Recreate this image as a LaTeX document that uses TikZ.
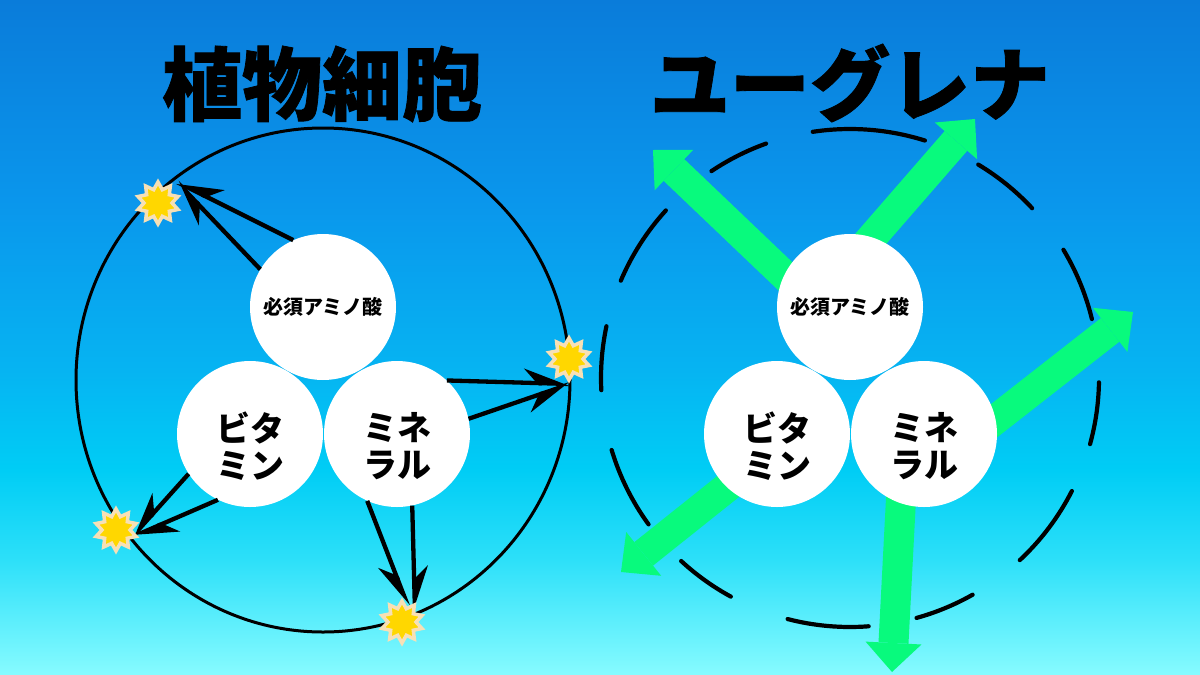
\documentclass[tikz,border=0pt]{standalone}
\usepackage{fontspec}
\usetikzlibrary{arrows.meta,shapes.geometric}
\newfontfamily\cjk{Noto Sans CJK JP}
\newfontfamily\cjkt{Noto Sans CJK JP}[BoldFeatures={FakeBold=1.0}]
\definecolor{bg0}{RGB}{10,124,218}
\definecolor{bg1}{RGB}{10,150,236}
\definecolor{bg2}{RGB}{6,180,242}
\definecolor{bg3}{RGB}{0,205,245}
\definecolor{bg4}{RGB}{45,224,249}
\definecolor{bg5}{RGB}{135,251,255}
\definecolor{grn}{RGB}{8,250,125}
\definecolor{sy}{RGB}{255,215,0}
\definecolor{sb}{RGB}{247,224,182}
\pgfdeclarelayer{back}
\pgfdeclarelayer{mid}
\pgfsetlayers{back,mid,main}
\begin{document}
\begin{tikzpicture}[x=1pt,y=-1pt,
  ball/.style={circle, fill=white, minimum size=146pt, inner sep=0pt},
  small/.style={font=\cjk\bfseries\fontsize{20}{22}\selectfont},
  big/.style={font=\cjk\bfseries\fontsize{34}{37}\selectfont, align=center, inner sep=0pt},
  ttl/.style={font=\cjkt\bfseries\fontsize{80}{80}\selectfont, inner sep=0pt},
  burst/.style={star, star points=10, star point ratio=1.5, minimum size=42pt, inner sep=0pt, fill=sy, draw=sb, line width=3.5pt},
  barrow/.style={line width=4.3pt, -{Stealth[harpoon, length=40pt, width=28pt, inset=13pt]}},
  barrows/.style={line width=4.3pt, -{Stealth[harpoon, swap, length=40pt, width=28pt, inset=13pt]}},
  garrow/.style={draw=grn, line width=30pt, -{Triangle[length=29pt, width=56pt, line width=0pt, fill=grn]}},
  dashc/.style={line width=4.2pt, line cap=round},
  cell/.style={line width=3pt}
]
\useasboundingbox (0,0) rectangle (1200,675);
\begin{pgfonlayer}{back}
\shade[top color=bg0, bottom color=bg1] (0,0) rectangle (1200,200.5);
\shade[top color=bg1, bottom color=bg2] (0,200) rectangle (1200,370.5);
\shade[top color=bg2, bottom color=bg3] (0,370) rectangle (1200,470.5);
\shade[top color=bg3, bottom color=bg4] (0,470) rectangle (1200,560.5);
\shade[top color=bg4, bottom color=bg5] (0,560) rectangle (1200,675);
\end{pgfonlayer}

% titles
\node[ttl] (title1) at (322,84) {植物細胞};
\node[ttl] (title2) at (850,83) {ユーグレナ};

% left: plant cell
\node[ball, small] (aminoL) at (323,307) {必須アミノ酸};
\node[ball] (vitaL) at (250,434) {};
\node[ball] (mineL) at (397,434) {};
\node[big] (vitaLt) at (250,446) {ビタ\\ミン};
\node[big] (mineLt) at (397,446) {ミネ\\ラル};

\begin{pgfonlayer}{mid}
\draw[cell] (323,380) ellipse [x radius=247, y radius=252];
\end{pgfonlayer}

\coordinate (t1) at (177,182);
\coordinate (t2) at (570,384);
\coordinate (t3) at (132,537);
\coordinate (t4a) at (408,606);
\coordinate (t4b) at (415,612);

\draw[barrows] (aminoL.114) -- (t1);
\draw[barrow] (aminoL.149) -- (t1);
\draw[barrow] (mineL.47) -- (t2);
\draw[barrows] (mineL.12) -- (t2);
\draw[barrows] (vitaL.213) -- (t3);
\draw[barrow] (vitaL.244) -- (t3);
\draw[barrows] (mineL.246) -- (t4a);
\draw[barrow] (mineL.282) -- (t4b);

\node[burst] (s1) at (158,203) {};
\node[burst] (s2) at (569,359) {};
\node[burst] (s3) at (116,530) {};
\node[burst] (s4) at (402,622) {};

% right: euglena
\node[ball, small] (aminoR) at (850,307) {必須アミノ酸};
\node[ball] (vitaR) at (777,434) {};
\node[ball] (mineR) at (924,434) {};
\node[big] (vitaRt) at (777,446) {ビタ\\ミン};
\node[big] (mineRt) at (924,446) {ミネ\\ラル};

\coordinate (dc) at (850,378);
\coordinate (g1s) at (805,295); \coordinate (g1t) at (653,150);
\coordinate (g2s) at (855,257); \coordinate (g2t) at (975,119);
\coordinate (g3s) at (940,463); \coordinate (g3t) at (1133,312);
\coordinate (g4s) at (903,460); \coordinate (g4t) at (892,672);
\coordinate (g5s) at (760,461); \coordinate (g5t) at (621,572);

\begin{pgfonlayer}{mid}
\foreach \a/\b in {72.5/98.6, 109.7/123.8, 137.7/157, 168/182.8, 196.8/216, 227.3/241.4, 255.5/274.3, 285.5/299.5, 313/333, 344.6/359, 13.7/31, 43/59}{
  \draw[dashc] (dc) ++(-\a:249) arc[start angle=-\a, end angle=-\b, radius=249];
}
\draw[garrow] (g1s) -- (g1t);
\draw[garrow] (g2s) -- (g2t);
\draw[garrow] (g3s) -- (g3t);
\draw[garrow] (g4s) -- (g4t);
\draw[garrow] (g5s) -- (g5t);
\end{pgfonlayer}
\end{tikzpicture}
\end{document}
